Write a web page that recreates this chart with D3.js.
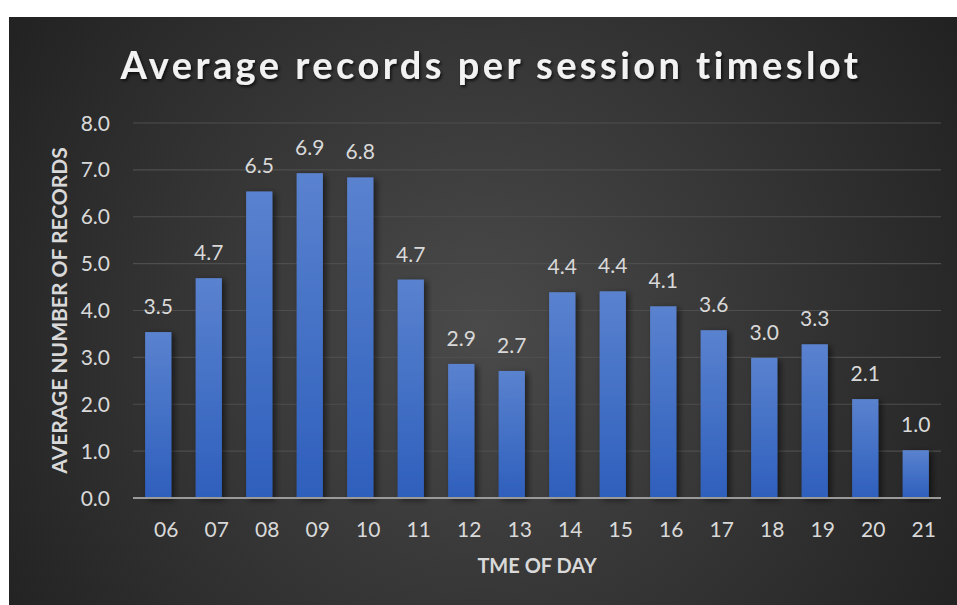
<!DOCTYPE html>
<html><head><meta charset="utf-8">
<script src="https://cdn.jsdelivr.net/npm/d3@7"></script>
<style>
html,body{margin:0;padding:0;background:#fff;}
svg{display:block;}
</style></head><body>
<svg id="chart" width="957" height="605"></svg>
<script>
const categories = ["06","07","08","09","10","11","12","13","14","15","16","17","18","19","20","21"];
const values = [3.54,4.69,6.54,6.93,6.84,4.66,2.86,2.71,4.39,4.41,4.09,3.58,2.99,3.28,2.11,1.02];
const yTicks = [0,1,2,3,4,5,6,7,8];
const title = "Average records per session timeslot";
const xTitle = "TME OF DAY";
const yTitle = "AVERAGE NUMBER OF RECORDS";

const svg = d3.select("#chart");
const defs = svg.append("defs");
const bg = defs.append("radialGradient").attr("id","bg")
  .attr("gradientUnits","userSpaceOnUse").attr("cx",480).attr("cy",330).attr("r",560);
bg.append("stop").attr("offset","0").attr("stop-color","#4a4a4a");
bg.append("stop").attr("offset","1").attr("stop-color","#222222");
const bar = defs.append("linearGradient").attr("id","bar").attr("x1",0).attr("y1",0).attr("x2",0).attr("y2",1);
bar.append("stop").attr("offset","0").attr("stop-color","#5a82cf");
bar.append("stop").attr("offset","1").attr("stop-color","#2e5fbc");
const sh = defs.append("filter").attr("id","sh").attr("x","-30%").attr("y","-10%").attr("width","160%").attr("height","120%");
sh.append("feDropShadow").attr("dx",3).attr("dy",2).attr("stdDeviation",3).attr("flood-color","#000").attr("flood-opacity",0.55);
const ts = defs.append("filter").attr("id","ts").attr("x","-10%").attr("y","-30%").attr("width","120%").attr("height","160%");
ts.append("feDropShadow").attr("dx",1.5).attr("dy",2).attr("stdDeviation",1.5).attr("flood-color","#000").attr("flood-opacity",0.7);

svg.append("rect").attr("x",9).attr("y",17).attr("width",948).attr("height",588).attr("fill","url(#bg)");

const m = {l:133, r:941, t:123, b:498};
const x = d3.scaleBand().domain(categories).range([m.l, m.r]).paddingInner(0.48).paddingOuter(0.24);
const y = d3.scaleLinear().domain([0,8]).range([m.b, m.t]);

// gridlines
svg.append("g").selectAll("line").data(yTicks.filter(d=>d>0)).join("line")
  .attr("x1",m.l).attr("x2",m.r).attr("y1",d=>y(d)).attr("y2",d=>y(d))
  .attr("stroke","#4e4e4e").attr("stroke-width",1.2);

const fontFam = "Lato, 'Open Sans', sans-serif";
const fs = 21;
// y tick labels
svg.append("g").selectAll("text").data(yTicks).join("text")
  .attr("x",110).attr("y",d=>y(d)).attr("dy","0.36em").attr("text-anchor","end")
  .attr("fill","#d9d9d9").attr("font-family",fontFam).attr("font-size",fs).text(d=>d.toFixed(1));

// bars
svg.append("g").selectAll("rect").data(values).join("rect")
  .attr("x",(d,i)=>x(categories[i])).attr("width",x.bandwidth())
  .attr("y",d=>y(d)).attr("height",d=>y(0)-y(d))
  .attr("fill","url(#bar)").attr("filter","url(#sh)");

// baseline
svg.append("line").attr("x1",m.l).attr("x2",m.r).attr("y1",y(0)).attr("y2",y(0))
  .attr("stroke","#9a9a9a").attr("stroke-width",2);

// value labels
svg.append("g").selectAll("text").data(values).join("text")
  .attr("x",(d,i)=>x(categories[i])+x.bandwidth()/2).attr("y",d=>y(d)-18)
  .attr("text-anchor","middle").attr("fill","#d9d9d9").attr("font-family",fontFam).attr("font-size",fs)
  .text(d=>d.toFixed(1));

// x tick labels
svg.append("g").selectAll("text").data(categories).join("text")
  .attr("x",d=>x(d)+x.bandwidth()/2+8).attr("y",537).attr("text-anchor","middle")
  .attr("fill","#d9d9d9").attr("font-family",fontFam).attr("font-size",fs).text(d=>d);

// axis titles
svg.append("text").attr("x",(m.l+m.r)/2).attr("y",573).attr("text-anchor","middle")
  .attr("fill","#d9d9d9").attr("font-family",fontFam).attr("font-weight",700).attr("font-size",20).text(xTitle);
svg.append("text").attr("transform",`translate(67,${(m.t+m.b)/2}) rotate(-90)`).attr("text-anchor","middle")
  .attr("fill","#d9d9d9").attr("font-family",fontFam).attr("font-weight",700).attr("font-size",21).text(yTitle);

// title
svg.append("text").attr("x",491).attr("y",79).attr("text-anchor","middle")
  .attr("fill","#f2f2f2").attr("font-family",fontFam).attr("font-weight",700).attr("font-size",38)
  .attr("letter-spacing",3.45).attr("filter","url(#ts)").text(title);
</script>
</body></html>
